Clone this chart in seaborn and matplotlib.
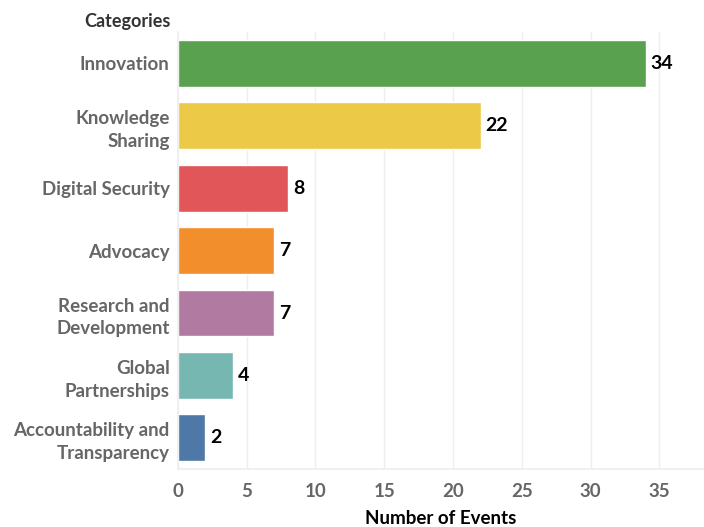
import matplotlib
matplotlib.use("Agg")
import matplotlib.pyplot as plt
import seaborn as sns
import pandas as pd

categories = ["Innovation", "Knowledge\nSharing", "Digital Security", "Advocacy",
              "Research and\nDevelopment", "Global\nPartnerships",
              "Accountability and\nTransparency"]
events = [34, 22, 8, 7, 7, 4, 2]
colors = ["#59A14F", "#EDC948", "#E15759", "#F28E2B", "#B07AA1", "#76B7B2", "#4E79A7"]

df = pd.DataFrame({"category": categories, "events": events})

sns.set_theme(style="white")
plt.rcParams['font.family'] = ['Lato', 'DejaVu Sans']

fig = plt.figure(figsize=(7.04, 5.27), dpi=100)
ax = fig.add_axes([0.2528, 0.110, 0.7472, 0.829])

sns.barplot(data=df, x="events", y="category", hue="category", palette=colors,
            orient="h", width=0.75, legend=False, saturation=1, ax=ax)

for i, v in enumerate(events):
    ax.text(v + 0.35, i, str(v), va="center", ha="left", fontsize=14,
            fontweight="bold", color="black")

ax.set_xlim(0, 38.25)
ax.set_xticks(range(0, 40, 5))
ax.xaxis.grid(True, color="#eeeeee", linewidth=1)
ax.set_axisbelow(True)
for s in ["top", "right"]:
    ax.spines[s].set_visible(False)
ax.spines["left"].set_color("#eeeeee")
ax.spines["bottom"].set_color("#eeeeee")
ax.tick_params(axis="both", length=0, labelsize=13.5, labelcolor="#666666")
ax.tick_params(axis="y", pad=6)
ax.tick_params(axis="x", pad=10)
for lbl in ax.get_yticklabels() + ax.get_xticklabels():
    lbl.set_fontweight("bold")
for lbl in ax.get_yticklabels():
    lbl.set_linespacing(1.4)

ax.set_ylabel("")
ax.set_xlabel("Number of Events", fontsize=13.5, fontweight="bold", color="black", labelpad=7)
fig.text(0.242, 0.960, "Categories", ha="right", va="center", fontsize=13,
         fontweight="bold", color="#333333")

fig.savefig("out.png", dpi=100)
